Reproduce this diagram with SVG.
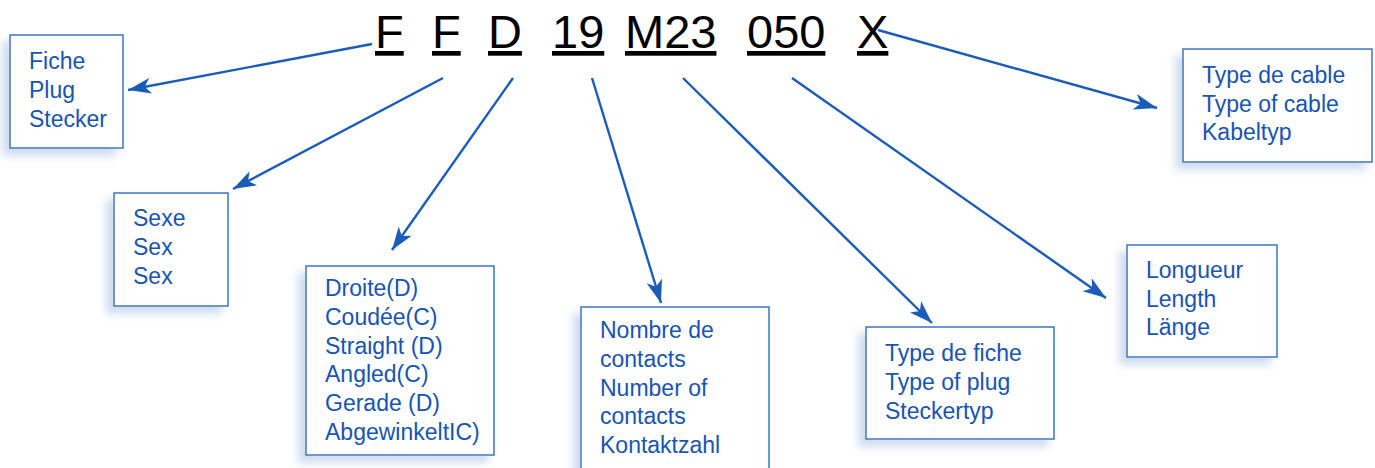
<svg xmlns="http://www.w3.org/2000/svg" width="1375" height="468" viewBox="0 0 1375 468">
<defs>
<style>
.box{fill:#ffffff;stroke:#3d74c2;stroke-width:1.5;filter:url(#sh)}
.lbl{font-family:"Liberation Sans",Arial,sans-serif;font-size:23px;fill:#1854b0}
.code{font-family:"Liberation Sans",Arial,sans-serif;font-size:47px;fill:#000000;text-decoration:underline}
.arr{stroke:#1a5cb8;stroke-width:2.4;fill:none;marker-end:url(#ah)}
</style>
<filter id="sh" x="-20%" y="-20%" width="140%" height="140%">
<feGaussianBlur in="SourceAlpha" stdDeviation="4"/>
<feOffset dx="-7" dy="7" result="b"/>
<feFlood flood-color="#b9cde9" flood-opacity="0.7"/>
<feComposite in2="b" operator="in"/>
<feMerge><feMergeNode/><feMergeNode in="SourceGraphic"/></feMerge>
</filter>
<marker id="ah" markerUnits="userSpaceOnUse" markerWidth="26" markerHeight="18" refX="23" refY="8" orient="auto">
<path d="M0,0 L23,8 L0,16 L6,8 z" fill="#1a5cb8"/>
</marker>
</defs>
<rect width="1375" height="468" fill="#ffffff"/>
<g id="code">
<text class="code" x="375" y="48">F</text>
<text class="code" x="432" y="48">F</text>
<text class="code" x="488" y="48">D</text>
<text class="code" x="552" y="48">19</text>
<text class="code" x="625" y="48">M23</text>
<text class="code" x="747" y="48">050</text>
<text class="code" x="857" y="48">X</text>
</g>
<g id="n1">
<rect class="box" x="10" y="35" width="113" height="113"/>
<text class="lbl" x="29" y="69">Fiche</text>
<text class="lbl" x="29" y="98">Plug</text>
<text class="lbl" x="29" y="127">Stecker</text>
</g>
<g id="n2">
<rect class="box" x="114" y="193" width="114" height="113"/>
<text class="lbl" x="133" y="226">Sexe</text>
<text class="lbl" x="133" y="255">Sex</text>
<text class="lbl" x="133" y="284">Sex</text>
</g>
<g id="n3">
<rect class="box" x="306" y="266" width="188" height="189"/>
<text class="lbl" x="325" y="296">Droite(D)</text>
<text class="lbl" x="325" y="325">Coudée(C)</text>
<text class="lbl" x="325" y="354">Straight (D)</text>
<text class="lbl" x="325" y="382">Angled(C)</text>
<text class="lbl" x="325" y="411">Gerade (D)</text>
<text class="lbl" x="325" y="440">AbgewinkeltIC)</text>
</g>
<g id="n4">
<rect class="box" x="581" y="307" width="188" height="175"/>
<text class="lbl" x="600" y="338">Nombre de</text>
<text class="lbl" x="600" y="367">contacts</text>
<text class="lbl" x="600" y="396">Number of</text>
<text class="lbl" x="600" y="424">contacts</text>
<text class="lbl" x="600" y="453">Kontaktzahl</text>
</g>
<g id="n5">
<rect class="box" x="866" y="327" width="188" height="112"/>
<text class="lbl" x="885" y="361">Type de fiche</text>
<text class="lbl" x="885" y="390">Type of plug</text>
<text class="lbl" x="885" y="419">Steckertyp</text>
</g>
<g id="n6">
<rect class="box" x="1127" y="245" width="150" height="112"/>
<text class="lbl" x="1146" y="278">Longueur</text>
<text class="lbl" x="1146" y="307">Length</text>
<text class="lbl" x="1146" y="335">Länge</text>
</g>
<g id="n7">
<rect class="box" x="1183" y="49" width="189" height="113"/>
<text class="lbl" x="1202" y="83">Type de cable</text>
<text class="lbl" x="1202" y="112">Type of cable</text>
<text class="lbl" x="1202" y="140">Kabeltyp</text>
</g>
<g id="connectors">
<line class="arr" x1="372" y1="44" x2="128" y2="90"/>
<line class="arr" x1="443" y1="78" x2="233" y2="189"/>
<line class="arr" x1="513" y1="78" x2="392" y2="250"/>
<line class="arr" x1="592" y1="78" x2="661" y2="303"/>
<line class="arr" x1="683" y1="78" x2="932" y2="323"/>
<line class="arr" x1="792" y1="78" x2="1106" y2="298"/>
<line class="arr" x1="878" y1="30" x2="1157" y2="108"/>
</g>
</svg>
